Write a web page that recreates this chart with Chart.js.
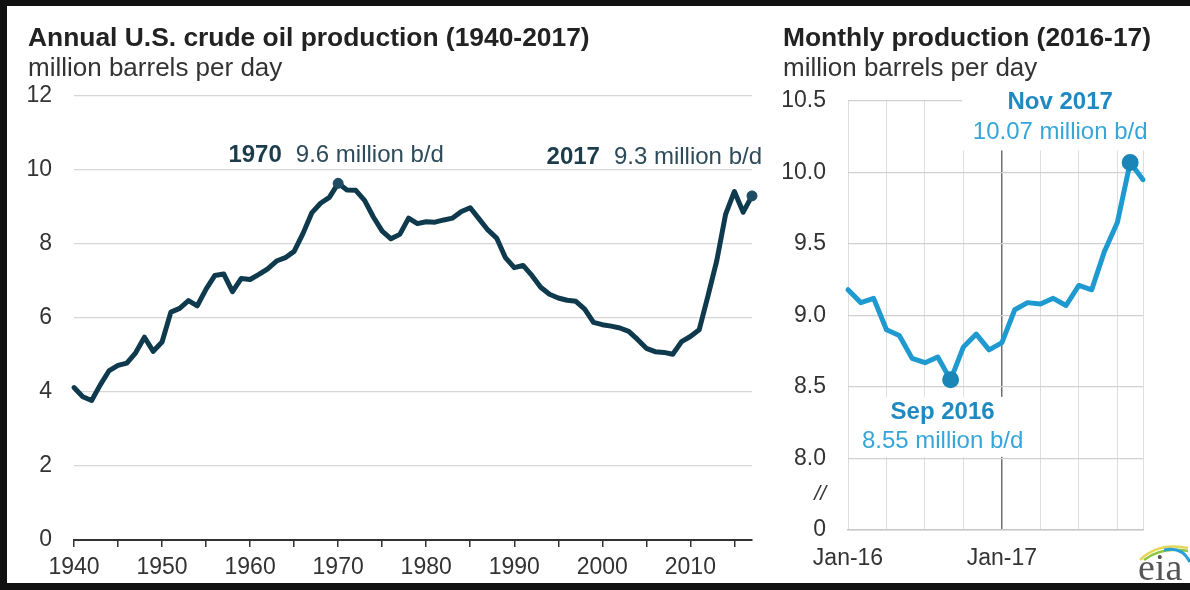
<!DOCTYPE html>
<html><head><meta charset="utf-8">
<script src="https://cdn.jsdelivr.net/npm/chart.js@4"></script>
<style>
html,body{margin:0;padding:0;background:#fff;width:1190px;height:590px;overflow:hidden;font-family:'Liberation Sans',Arial,sans-serif;}
#c1{position:absolute;left:0;top:0;}
#c2{position:absolute;left:770px;top:0;}
.t{position:absolute;white-space:nowrap;line-height:30px;}
.bar{position:absolute;background:#111;z-index:5;}
#logo{position:absolute;left:1136px;top:538px;width:54px;height:46px;}
</style></head><body>
<canvas id="c1" width="770" height="590"></canvas>
<canvas id="c2" width="420" height="590"></canvas>
<div class="t" style="left:28px;top:22px;font-weight:bold;font-size:26.4px;color:#222">Annual U.S. crude oil production (1940-2017)</div>
<div class="t" style="left:28px;top:52px;font-size:26px;color:#333">million barrels per day</div>
<div class="t" style="left:783px;top:22px;font-weight:bold;font-size:26.4px;color:#222">Monthly production (2016-17)</div>
<div class="t" style="left:783px;top:52px;font-size:26px;color:#333">million barrels per day</div>
<div id="logo">
<svg width="54" height="46" viewBox="0 0 54 46" style="position:absolute;left:0;top:0">
<path d="M4 22 Q22 4 52 10" stroke="#e6d657" stroke-width="2.5" fill="none"/>
<path d="M8 22 Q26 8 52 13" stroke="#8cc63f" stroke-width="2.5" fill="none"/>
<path d="M28 12 Q46 8 54 24" stroke="#2aa0d8" stroke-width="3" fill="none"/>
</svg>
<div style="position:absolute;left:2px;top:12px;font-family:'Liberation Serif','Times New Roman',serif;font-size:38px;line-height:34px;color:#555">eia</div>
</div>
<div class="bar" style="left:0;top:0;width:1190px;height:6px"></div>
<div class="bar" style="left:0;top:0;width:7px;height:590px"></div>
<div class="bar" style="left:0;top:583px;width:1190px;height:7px"></div>
<script>
// ---------- data ----------
const years = [];
for (let yr = 1940; yr <= 2017; yr++) years.push(yr);
const annualProduction = [
 4.12, 3.87, 3.77, 4.20, 4.58, 4.72, 4.78, 5.06, 5.48, 5.10,
 5.35, 6.16, 6.26, 6.47, 6.33, 6.78, 7.15, 7.19, 6.71, 7.07,
 7.04, 7.18, 7.33, 7.54, 7.63, 7.80, 8.28, 8.84, 9.10, 9.26,
 9.64, 9.46, 9.45, 9.18, 8.73, 8.35, 8.14, 8.26, 8.70, 8.55,
 8.60, 8.59, 8.65, 8.70, 8.88, 8.98, 8.68, 8.38, 8.16, 7.63,
 7.36, 7.42, 7.15, 6.83, 6.64, 6.54, 6.48, 6.45, 6.24, 5.88,
 5.82, 5.78, 5.73, 5.64, 5.42, 5.18, 5.09, 5.07, 5.02, 5.36,
 5.50, 5.68, 6.60, 7.55, 8.80, 9.42, 8.86, 9.30
];
const annualXTicks = [1940,1945,1950,1955,1960,1965,1970,1975,1980,1985,1990,1995,2000,2005,2010,2015];
const annualYTicks = [0,2,4,6,8,10,12];
const annualHighlights = [1970, 2017];

const months = ['Jan-16','Feb-16','Mar-16','Apr-16','May-16','Jun-16','Jul-16','Aug-16','Sep-16','Oct-16','Nov-16','Dec-16',
                'Jan-17','Feb-17','Mar-17','Apr-17','May-17','Jun-17','Jul-17','Aug-17','Sep-17','Oct-17','Nov-17','Dec-17'];
const monthlyProduction = [9.18, 9.09, 9.12, 8.90, 8.86, 8.70, 8.67, 8.71, 8.55, 8.78, 8.87, 8.76,
                           8.81, 9.04, 9.09, 9.08, 9.12, 9.07, 9.21, 9.18, 9.45, 9.65, 10.07, 9.95];
const monthlyYTicks = [7.5, 7.75, 8.0, 8.5, 9.0, 9.5, 10.0, 10.5];
const monthlyXLabels = ['Jan-16','Jan-17'];
const monthlyHighlights = ['Sep-16','Nov-17'];

// ---------- styles ----------
const FAM = "'Liberation Sans', Arial, sans-serif";
const DARK = '#0f3a4d';
const LIGHT = '#1e9ad0';

// ---------- left chart ----------
const annLeft = {
  id: 'annLeft',
  afterDatasetsDraw(chart) {
    const {ctx, scales: {x, y}} = chart;
    function pair(bold, reg, px, py, align) {
      ctx.save();
      ctx.textBaseline = 'middle';
      ctx.textAlign = 'left';
      ctx.font = 'bold 24px ' + FAM; const wb = ctx.measureText(bold).width;
      ctx.font = '24px ' + FAM; const wr = ctx.measureText(reg).width;
      const gap = 14, total = wb + gap + wr;
      const x0 = align === 'center' ? px - total / 2 : px - total;
      ctx.font = 'bold 24px ' + FAM; ctx.fillStyle = '#1c3c4c'; ctx.fillText(bold, x0, py);
      ctx.font = '24px ' + FAM; ctx.fillStyle = '#2d4b5a'; ctx.fillText(reg, x0 + wb + gap, py);
      ctx.restore();
    }
    const i70 = years.indexOf(1970), i17 = years.indexOf(2017);
    pair('1970', '9.6 million b/d', x.getPixelForValue(1970) - 2, y.getPixelForValue(annualProduction[i70]) - 28, 'center');
    pair('2017', '9.3 million b/d', x.getPixelForValue(2017) + 10, y.getPixelForValue(annualProduction[i17]) - 39, 'right');
  }
};

new Chart(document.getElementById('c1'), {
  type: 'line',
  data: {
    datasets: [{
      data: years.map((yr, i) => ({x: yr, y: annualProduction[i]})),
      borderColor: DARK,
      borderWidth: 5,
      borderJoinStyle: 'round',
      borderCapStyle: 'round',
      tension: 0,
      clip: false,
      pointRadius: ctx => annualHighlights.includes(years[ctx.dataIndex]) ? 5 : 0,
      pointBackgroundColor: '#1e4d63',
      pointBorderColor: '#1e4d63',
      pointBorderWidth: 1
    }]
  },
  options: {
    responsive: false,
    animation: false,
    layout: {padding: {left: 0, right: 18, top: 96, bottom: 0}},
    plugins: {legend: {display: false}, tooltip: {enabled: false}},
    scales: {
      x: {
        type: 'linear', min: 1940, max: 2017,
        afterBuildTicks: s => { s.ticks = annualXTicks.map(v => ({value: v})); },
        afterFit: s => { s.height = 50; },
        grid: {drawOnChartArea: false, drawTicks: true, tickLength: 7, color: '#333', lineWidth: 1.5},
        border: {display: true, color: '#333', width: 2},
        ticks: {
          callback: v => (v % 10 === 0 ? String(v) : ''),
          autoSkip: false, maxRotation: 0, padding: 7,
          color: '#333', font: {family: FAM, size: 23}
        }
      },
      y: {
        min: 0, max: 12,
        afterBuildTicks: s => { s.ticks = annualYTicks.map(v => ({value: v})); },
        afterFit: s => { s.width = 74; },
        grid: {color: '#d6d6d6', lineWidth: 1.2, drawTicks: false},
        border: {display: false},
        ticks: {padding: 22, color: '#333', font: {family: FAM, size: 23}, callback: v => String(v)}
      }
    }
  },
  plugins: [annLeft]
});

// ---------- right chart ----------
const annRight = {
  id: 'annRight',
  beforeDatasetsDraw(chart) {
    const {ctx, scales: {x, y}} = chart;
    function label(bold, reg, idx, dy1, dy2, dx, box) {
      const px = x.getPixelForValue(idx), py = y.getPixelForValue(monthlyProduction[idx]);
      ctx.save();
      ctx.fillStyle = '#fff';
      ctx.fillRect(px + box[0], py + box[1], box[2], box[3]);
      ctx.textAlign = 'center'; ctx.textBaseline = 'middle';
      ctx.font = 'bold 24px ' + FAM; ctx.fillStyle = '#1f8ac2';
      ctx.fillText(bold, px + dx, py + dy1);
      ctx.font = '24px ' + FAM; ctx.fillStyle = '#36a6d8';
      ctx.fillText(reg, px + dx, py + dy2);
      ctx.restore();
    }
    const iSep = months.indexOf('Sep-16'), iNov = months.indexOf('Nov-17');
    label('Nov 2017', '10.07 million b/d', iNov, -60, -30, -70, [-168, -78, 190, 66]);
    label('Sep 2016', '8.55 million b/d', iSep, 33, 62, -8, [-96, 17, 174, 60]);
  }
};

new Chart(document.getElementById('c2'), {
  type: 'line',
  data: {
    labels: months,
    datasets: [{
      data: monthlyProduction,
      borderColor: LIGHT,
      borderWidth: 5,
      borderJoinStyle: 'round',
      borderCapStyle: 'round',
      tension: 0,
      clip: false,
      pointRadius: ctx => monthlyHighlights.includes(months[ctx.dataIndex]) ? 6 : 0,
      pointBackgroundColor: '#1a86b8',
      pointBorderColor: '#1a86b8'
    }]
  },
  options: {
    responsive: false,
    animation: false,
    layout: {padding: {left: 0, right: 47, top: 101, bottom: 0}},
    plugins: {legend: {display: false}, tooltip: {enabled: false}},
    scales: {
      x: {
        type: 'category', offset: false,
        afterFit: s => { s.height = 60; },
        grid: {
          drawTicks: false,
          color: ctx => {
            const i = ctx.index;
            if (i === 12) return '#707070';
            if (i % 3 === 0 || i === months.length - 1) return '#dedede';
            return 'rgba(0,0,0,0)';
          },
          lineWidth: ctx => (ctx.index === 12 ? 1.5 : 1)
        },
        border: {display: true, color: '#c8c8c8', width: 1.5},
        ticks: {
          autoSkip: false, maxRotation: 0, padding: 15,
          color: '#333', font: {family: FAM, size: 23},
          callback: function (val, idx) {
            const l = this.getLabelForValue(val);
            return monthlyXLabels.includes(l) ? l : '';
          }
        }
      },
      y: {
        min: 7.5, max: 10.5,
        afterBuildTicks: s => { s.ticks = monthlyYTicks.map(v => ({value: v})); },
        afterFit: s => { s.width = 78; },
        grid: {
          drawTicks: false,
          color: ctx => (ctx.tick && ctx.tick.value === 7.75 ? 'rgba(0,0,0,0)' : '#d0d0d0'),
          lineWidth: 1.2
        },
        border: {display: false},
        ticks: {
          padding: 22, color: '#333',
          font: ctx => (ctx.tick && ctx.tick.value === 7.75
            ? {family: FAM, size: 21, style: 'italic'}
            : {family: FAM, size: 23}),
          callback: v => (v === 7.5 ? '0' : v === 7.75 ? '//' : v.toFixed(1))
        }
      }
    }
  },
  plugins: [annRight]
});
</script>
</body></html>
